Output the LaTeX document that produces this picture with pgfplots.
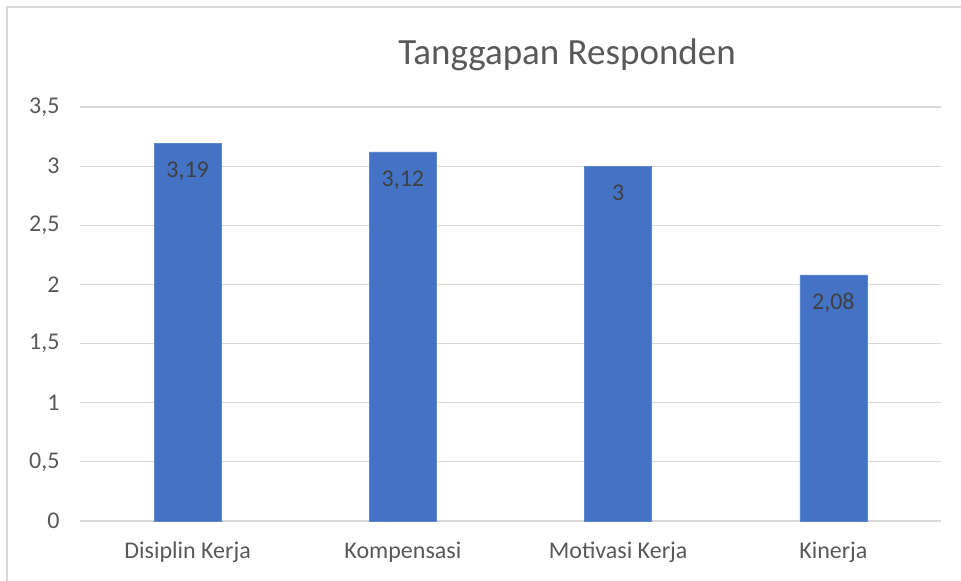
\documentclass[border=0pt]{standalone}
\usepackage{pgfplots}
\pgfplotsset{compat=1.18}
\usepackage{fontspec}
\setmainfont{Carlito}
\definecolor{barblue}{HTML}{4472C4}
\definecolor{txtgray}{HTML}{595959}
\definecolor{gridgray}{HTML}{D9D9D9}
\definecolor{lbl}{HTML}{404040}
\begin{document}
\begin{tikzpicture}[x=1bp,y=1bp]
\useasboundingbox (0,0) rectangle (961,581);
\fill[white] (0,0) rectangle (961,581);
\draw[gridgray, line width=1.2bp] (7,0) -- (7,574) -- (961,574);
\node[anchor=base, text=txtgray, font=\fontsize{37bp}{44bp}\selectfont] at (567,516) {Tanggapan Responden};
\begin{axis}[
  at={(80bp,60bp)}, anchor=south west,
  scale only axis, width=861bp, height=414bp,
  ybar, bar width=67bp,
  xmin=-0.5, xmax=3.5, ymin=0, ymax=3.5,
  ytick={0,0.5,...,3.5},
  xtick={0,1,2,3},
  xticklabels={Disiplin Kerja, Kompensasi, Motivasi Kerja, Kinerja},
  axis line style={draw=none},
  axis x line*=bottom,
  x axis line style={draw=gridgray, line width=1.2bp},
  major tick length=0pt,
  ymajorgrids, grid style={gridgray, line width=1.2bp},
  /pgf/number format/assume math mode=true,
  /pgf/number format/use comma,
  /pgf/number format/1000 sep={},
  tick label style={text=txtgray, font=\fontsize{24bp}{28bp}\selectfont},
  yticklabel style={anchor=east, xshift=-17bp},
  xticklabel style={anchor=north, yshift=-17bp},
  nodes near coords,
  nodes near coords style={anchor=north, yshift=-15bp, text=lbl, font=\fontsize{24bp}{28bp}\selectfont},
  clip=false,
]
\addplot[fill=barblue, draw=barblue!85!white] coordinates {(0,3.19) (1,3.12) (2,3) (3,2.08)};
\end{axis}
\end{tikzpicture}
\end{document}
